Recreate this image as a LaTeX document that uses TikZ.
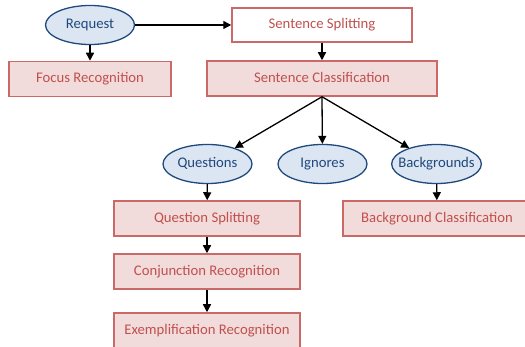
\documentclass[tikz,border=0pt]{standalone}
\usepackage{fontspec}
\setmainfont{Carlito}
\usetikzlibrary{arrows.meta, shapes.geometric}
\definecolor{sred}{RGB}{192,80,77}
\definecolor{sfill}{RGB}{242,220,219}
\definecolor{eblue}{RGB}{31,73,125}
\definecolor{efill}{RGB}{220,230,242}

\begin{document}
\begin{tikzpicture}[x=1pt,y=-1pt,
  stepbox/.style={rectangle,draw=sred!85,fill=sfill,line width=1.5pt,text=sred,
                  font=\fontsize{14.7}{17}\selectfont,minimum height=35pt,inner sep=2pt,
                  text height=1.6ex,text depth=0pt},
  cls/.style={ellipse,draw=eblue,fill=efill,line width=1.3pt,text=eblue,
              font=\fontsize{14.7}{17}\selectfont,minimum width=89pt,minimum height=39pt,inner sep=0pt,
              text height=1.6ex,text depth=0pt},
  arr/.style={-{Triangle[length=8pt,width=8pt]},black,line width=1.3pt}
]
\useasboundingbox (0,0) rectangle (525,347);
\clip (0,0) rectangle (525,347);
\node[cls] (req) at (90,25) {Request};
\node[stepbox, minimum width=162pt] (focus) at (90,79) {Focus Recognition};
\node[stepbox, fill=white, minimum width=180pt, minimum height=34pt] (split) at (322,25) {Sentence Splitting};
\node[stepbox, minimum width=230pt] (classif) at (322,78.5) {Sentence Classification};
\node[cls] (quest) at (207.5,164) {Questions};
\node[cls] (ign) at (322.5,164) {Ignores};
\node[cls, inner xsep=-6.5pt] (back) at (436.5,164) {Backgrounds};
\node[stepbox, minimum width=186pt] (qsplit) at (207,218.5) {Question Splitting};
\node[stepbox, minimum width=188pt] (bclass) at (437,218.5) {Background Classification};
\node[stepbox, minimum width=186pt] (conj) at (207,271.5) {Conjunction Recognition};
\node[stepbox, minimum width=186pt] (exempl) at (207,330.5) {Exemplification Recognition};
\draw[arr] (req)--(split);
\draw[arr] (req)--(focus);
\draw[arr] (split)--(classif);
\draw[arr] (classif.south)--(quest);
\draw[arr] (classif.south)--(ign);
\draw[arr] (classif.south)--(back);
\draw[arr] (quest)--(qsplit);
\draw[arr] (back)--(bclass);
\draw[arr] (qsplit)--(conj);
\draw[arr] (conj)--(exempl);
\end{tikzpicture}
\end{document}
